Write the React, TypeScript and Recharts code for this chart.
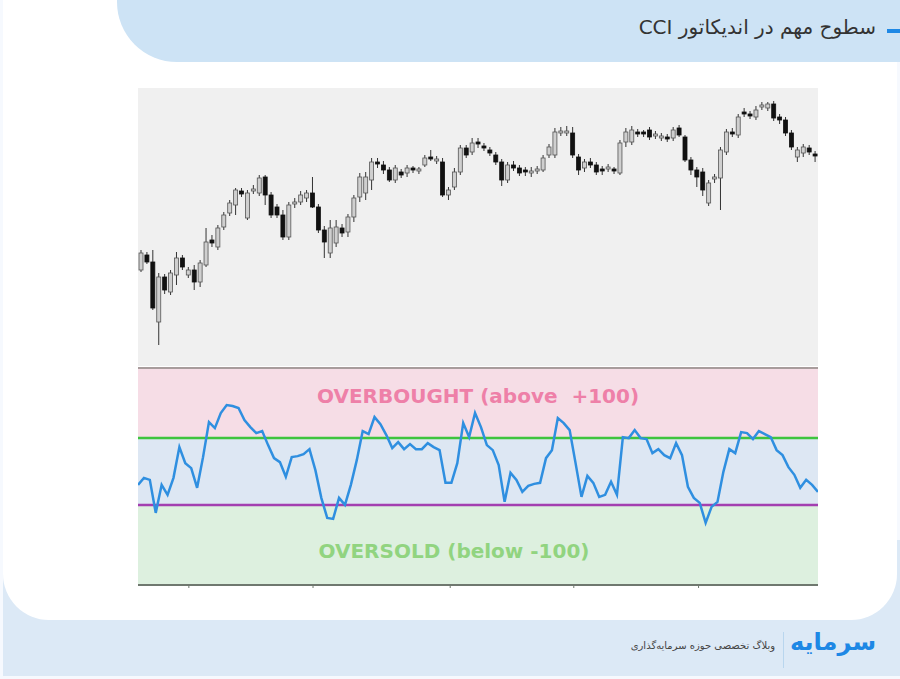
import {
  ComposedChart, Bar, XAxis, YAxis,
  LineChart, Line, ReferenceArea, ReferenceLine,
} from 'recharts';

// price candles (arbitrary price units)
const OPEN = [
  110, 125, 118, 58, 103, 88, 105, 122, 105, 110,
  98, 115, 140, 133, 153, 167, 175, 189, 162, 189,
  187, 203, 185, 173, 165, 143, 176, 178, 182, 187,
  173, 150, 127, 137, 152, 148, 163, 183, 187, 200,
  218, 215, 210, 200, 208, 207, 212, 209, 215, 223,
  219, 218, 185, 193, 208, 232, 228, 238, 234, 230,
  225, 218, 200, 215, 212, 210, 207, 209, 210, 225,
  225, 247, 247, 247, 223, 212, 218, 215, 211, 211,
  211, 207, 238, 238, 248, 248, 250, 244, 242, 243,
  242, 252, 243, 220, 210, 208, 177, 201, 202, 228,
  248, 245, 268, 266, 263, 273, 272, 276, 263, 260,
  247, 223, 227, 232, 226,
];
const CLOSE = [
  127, 118, 72, 103, 90, 107, 122, 113, 110, 98,
  117, 138, 137, 152, 165, 177, 190, 186, 187, 191,
  202, 185, 165, 165, 143, 175, 178, 185, 187, 173,
  150, 138, 152, 153, 147, 163, 182, 203, 203, 218,
  216, 210, 200, 212, 205, 212, 210, 211, 222, 221,
  221, 185, 190, 208, 232, 225, 237, 236, 232, 227,
  218, 200, 215, 212, 207, 208, 209, 211, 222, 233,
  248, 249, 249, 225, 210, 218, 215, 208, 209, 213,
  209, 237, 248, 250, 246, 246, 243, 246, 244, 241,
  250, 245, 220, 210, 203, 190, 197, 203, 230, 248,
  246, 263, 266, 264, 270, 275, 276, 262, 260, 247,
  233, 230, 233, 228, 224,
];
const HIGH = [
  130, 128, 130, 107, 106, 110, 128, 125, 113, 115,
  120, 152, 145, 155, 168, 180, 192, 192, 190, 195,
  205, 205, 188, 176, 170, 178, 182, 189, 190, 203,
  176, 154, 160, 160, 156, 166, 185, 207, 208, 222,
  222, 219, 213, 215, 211, 215, 214, 213, 225, 230,
  224, 222, 193, 212, 235, 235, 242, 242, 237, 233,
  228, 221, 218, 219, 215, 213, 213, 214, 225, 236,
  252, 253, 254, 253, 226, 221, 222, 218, 214, 216,
  213, 240, 252, 254, 251, 250, 253, 249, 247, 246,
  253, 255, 245, 223, 213, 212, 200, 206, 233, 251,
  252, 266, 272, 269, 274, 278, 278, 279, 266, 263,
  250, 233, 236, 235, 229,
];
const LOW = [
  108, 116, 70, 35, 86, 85, 95, 110, 102, 90,
  93, 113, 133, 130, 150, 164, 165, 183, 160, 186,
  184, 175, 162, 162, 140, 140, 172, 175, 178, 172,
  147, 122, 122, 133, 143, 143, 158, 178, 180, 190,
  212, 206, 198, 197, 202, 203, 207, 206, 213, 219,
  216, 183, 180, 190, 205, 222, 225, 232, 229, 224,
  215, 194, 197, 209, 204, 204, 203, 206, 208, 222,
  222, 244, 244, 222, 205, 208, 212, 205, 205, 208,
  206, 205, 233, 235, 243, 243, 240, 241, 239, 238,
  239, 243, 218, 205, 193, 184, 174, 197, 170, 225,
  243, 242, 263, 261, 260, 270, 269, 259, 256, 244,
  230, 218, 223, 225, 218,
];

// CCI values
const CCI = [
  -40, -19, -25, -124, -40, -70, -19, 73, 25, 10,
  -49, 43, 148, 130, 175, 199, 196, 190, 154, 133,
  115, 121, 79, 40, 28, -16, 43, 46, 52, 67,
  4, -79, -139, -142, -79, -100, -40, 34, 121, 112,
  163, 142, 109, 70, 88, 67, 82, 67, 67, 85,
  73, 64, -34, -34, 25, 145, 103, 175,
  133, 79, 64, 19, -91, -4, -25, -61, -43, -37,
  -34, 40, 64, 160, 145, 124, 25, -76, -13, -34,
  -76, -70, -31, -70, 103, 100, 124, 100, 97, 55,
  67, 49, 40, 85, 49, -46, -79, -94, -154, -106,
  -91, -1, 67, 55, 118, 115, 97, 121, 112, 103,
  64, 49, 13, -10, -49, -25, -40, -61,
];
const CCI_TICKS = [8.6, 29.6, 52.8, 73.7, 94.8];
const OVERBOUGHT = 100;
const OVERSOLD = -100;

const candles = OPEN.map((o, i) => ({
  i,
  open: o,
  close: CLOSE[i],
  high: HIGH[i],
  low: LOW[i],
  range: [LOW[i], HIGH[i]],
}));
const cciData = CCI.map((v, i) => ({ i, cci: v }));

function Candle(props: any) {
  const { x, y, width, height, payload } = props;
  if (x == null || y == null) return null;
  const top = Math.min(y, y + height);
  const h = Math.abs(height) || 1;
  const { open, close, high, low } = payload;
  const toY = (p: number) => top + ((high - p) / (high - low || 1)) * h;
  const up = close >= open;
  const bTop = toY(Math.max(open, close));
  const bBot = toY(Math.min(open, close));
  const cx = x + width / 2;
  return (
    <g>
      <line x1={cx} x2={cx} y1={top} y2={top + h} stroke="#333" strokeWidth={1} />
      <rect
        x={x}
        y={bTop}
        width={width}
        height={Math.max(bBot - bTop, 1.5)}
        fill={up ? '#cfcfcf' : '#111'}
        stroke={up ? '#555' : '#111'}
        strokeWidth={0.8}
      />
    </g>
  );
}

const arabicFont = '"DejaVu Sans", "Noto Sans", sans-serif';
const chartFont = '"DejaVu Sans", Verdana, sans-serif';

export default function App() {
  return (
    <div style={{ position: 'absolute', left: 0, top: 0, width: 900, height: 679, background: '#f6f9fe', overflow: 'hidden' }}>
      {/* footer band behind the card */}
      <div style={{ position: 'absolute', left: 3, top: 540, width: 897, height: 136, background: '#dce9f6' }} />
      {/* white card */}
      <div style={{ position: 'absolute', left: 3, top: 0, width: 894, height: 620, background: '#fff', borderRadius: '0 0 46px 46px' }} />
      {/* header tab */}
      <div style={{ position: 'absolute', left: 117, top: 0, width: 783, height: 62, background: '#cde3f5', borderBottomLeftRadius: 60 }} />
      <div style={{ position: 'absolute', right: 0, top: 29, width: 13, height: 4, background: '#1e88e5' }} />
      <div
        dir="rtl"
        style={{ position: 'absolute', right: 24, top: 15, fontFamily: arabicFont, fontSize: 20, color: '#333', whiteSpace: 'nowrap' }}
      >
        سطوح مهم در اندیکاتور CCI
      </div>

      {/* price panel */}
      <div style={{ position: 'absolute', left: 138, top: 88, width: 680, height: 278, background: '#f0f0f0' }}>
        <ComposedChart width={680} height={278} data={candles} margin={{ top: 0, right: 0, bottom: 0, left: 0 }}>
          <XAxis dataKey="i" hide />
          <YAxis hide domain={[14, 292]} />
          <Bar dataKey="range" barSize={4} shape={Candle} isAnimationActive={false} />
        </ComposedChart>
      </div>

      {/* CCI panel */}
      <div style={{ position: 'absolute', left: 138, top: 366, width: 680, height: 227 }}>
        <LineChart width={680} height={227} data={cciData} margin={{ top: 2, right: 0, bottom: 0, left: 0 }}>
          <XAxis
            dataKey="i"
            type="number"
            domain={[0, CCI.length - 1]}
            ticks={CCI_TICKS}
            height={8}
            axisLine={{ stroke: '#6f786f', strokeWidth: 2 }}
            tickLine={{ stroke: '#6f786f' }}
            tickSize={3}
            tick={() => <g />}
          />
          <YAxis hide domain={[-340, 310]} allowDataOverflow />
          <ReferenceArea
            y1={OVERBOUGHT}
            y2={310}
            fill="#f6dde6"
            fillOpacity={1}
            label={{ value: 'OVERBOUGHT (above\u00a0 +100)', position: 'center', fill: '#ee80a8', fontSize: 20, fontWeight: 'bold', fontFamily: chartFont, dy: -7 }}
          />
          <ReferenceArea y1={OVERSOLD} y2={OVERBOUGHT} fill="#dde7f3" fillOpacity={1} />
          <ReferenceArea
            y1={-340}
            y2={OVERSOLD}
            fill="#ddf0df"
            fillOpacity={1}
            label={{ value: 'OVERSOLD (below -100)', position: 'center', fill: '#91d480', fontSize: 20, fontWeight: 'bold', fontFamily: chartFont, dx: -24, dy: 6 }}
          />
          <ReferenceLine y={310} stroke="#a89c9c" strokeWidth={2} />
          <ReferenceLine y={OVERBOUGHT} stroke="#3ec43e" strokeWidth={2.5} />
          <ReferenceLine y={OVERSOLD} stroke="#a33fb0" strokeWidth={2.5} />
          <Line
            type="linear"
            dataKey="cci"
            stroke="#2f8fe0"
            strokeWidth={2.5}
            dot={false}
            isAnimationActive={false}
          />
        </LineChart>
      </div>

      {/* footer */}
      <div style={{ position: 'absolute', left: 783, top: 632, width: 1, height: 36, background: '#b9d6ee' }} />
      <div
        dir="rtl"
        style={{ position: 'absolute', right: 125, top: 640, fontFamily: arabicFont, fontSize: 10, color: '#444', whiteSpace: 'nowrap' }}
      >
        وبلاگ تخصصی حوزه سرمایه‌گذاری
      </div>
      <div
        dir="rtl"
        style={{ position: 'absolute', right: 24, top: 628, fontFamily: arabicFont, fontSize: 24, fontWeight: 'bold', color: '#1e88e5', whiteSpace: 'nowrap' }}
      >
        سرمایه
      </div>
    </div>
  );
}
